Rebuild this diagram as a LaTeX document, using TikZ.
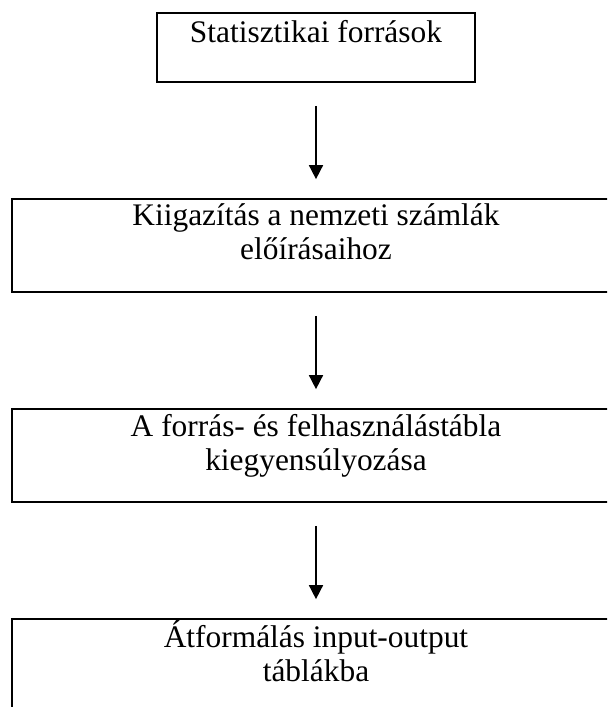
\documentclass[tikz,border=0pt]{standalone}
\usepackage{fontspec}
\setmainfont{Liberation Serif}
\usetikzlibrary{arrows.meta}
\begin{document}
\begin{tikzpicture}
[x=0.5pt,y=-0.5pt,
  boxdecorate/.style={shape=rectangle,draw,line width=0.85pt,inner sep=0pt},%
  textdecorate/.style={anchor=base,align=center,inner sep=0pt,
    font=\fontsize{15.7}{17}\selectfont},%
  linedecorate/.style={-{Triangle[width=7pt,length=7pt]},line width=0.8pt,
    shorten <=11.5pt,shorten >=9.5pt}]
\useasboundingbox (0,0) rectangle (607,707);
\clip (0,0) rectangle (607,707);
%% boxes
\node (forras) at (316,47.5) [boxdecorate,minimum width=159pt,
  minimum height=34.5pt] {};
\foreach \nodename/\y in {kiigazitas/245.5, egyensuly/455.5,
  atformalas/665.5} {
  \node (\nodename) at (316,\y) [boxdecorate,minimum width=304pt,
    minimum height=46.5pt] {};
}
%% texts inside the boxes (base = baseline of the last line)
\foreach \nodename/\y/\words in {forras/42/{Statisztikai források},
  kiigazitas/259/{Kiigazítás a nemzeti számlák\\ előírásaihoz},
  egyensuly/470/{A forrás- és felhasználástábla\\ kiegyensúlyozása},
  atformalas/681/{Átformálás input-output\\ táblákba}} {
  \node (\nodename text) at (316,\y) [textdecorate] {\words};
}
%% arrows between the boxes
\path
\foreach \startnode/\endnode in {forras/kiigazitas, kiigazitas/egyensuly,
  egyensuly/atformalas} {
  (\startnode) edge[linedecorate] (\endnode)
};
\end{tikzpicture}
\end{document}
